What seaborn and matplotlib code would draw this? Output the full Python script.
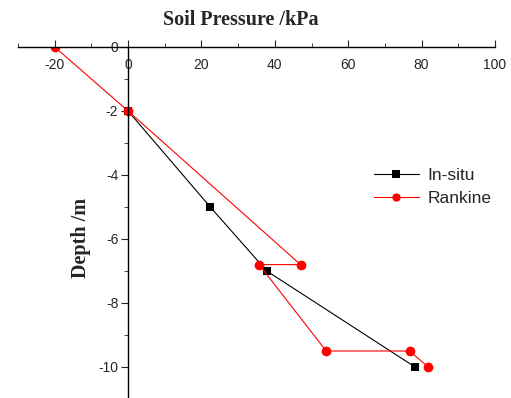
import pandas as pd
import matplotlib
matplotlib.use("Agg")
import matplotlib.pyplot as plt
from matplotlib.ticker import MultipleLocator
import seaborn as sns

# ----------------------------
# Data
# ----------------------------
insitu_pressure = [0, 22.4, 37.8, 78.2]
insitu_depth = [-2, -5, -7, -10]

rankine_pressure = [-20, 0, 47.0, 35.7, 54.0, 76.7, 81.8]
rankine_depth = [0, -2, -6.8, -6.8, -9.5, -9.5, -10]

series_names = ["In-situ", "Rankine"]

df = pd.concat([
    pd.DataFrame({"pressure": insitu_pressure, "depth": insitu_depth, "series": series_names[0]}),
    pd.DataFrame({"pressure": rankine_pressure, "depth": rankine_depth, "series": series_names[1]}),
], ignore_index=True)

sns.set_style("ticks")
plt.rcParams["font.family"] = ["Liberation Sans", "DejaVu Sans"]
plt.rcParams["axes.unicode_minus"] = False

fig = plt.figure(figsize=(5.11, 3.98), dpi=100)
ax = fig.add_axes([18 / 511, 0.0, 477 / 511, 351 / 398])

sns.lineplot(
    data=df, x="pressure", y="depth", hue="series", style="series",
    markers={"In-situ": "s", "Rankine": "o"}, dashes=False,
    palette={"In-situ": "black", "Rankine": "red"},
    sort=False, estimator=None, units="series",
    linewidth=0.8, markeredgewidth=0, ax=ax,
)
for line, ms in zip(ax.lines, [6, 7]):
    line.set_markersize(ms)

ax.set_xlim(-30, 100)
ax.set_ylim(-351 / 32, 0)

# axes cross at the origin
for side in ["top", "right"]:
    ax.spines[side].set_visible(False)
ax.spines["bottom"].set_position(("data", 0))
ax.spines["left"].set_position(("data", 0))
for side in ["bottom", "left"]:
    ax.spines[side].set_linewidth(1.0)
    ax.spines[side].set_color("black")

ax.xaxis.set_major_locator(MultipleLocator(20))
ax.xaxis.set_minor_locator(MultipleLocator(10))
ax.yaxis.set_major_locator(MultipleLocator(2))
ax.yaxis.set_minor_locator(MultipleLocator(1))
ax.tick_params(axis="x", which="both", direction="in", labelsize=10, pad=8)
ax.tick_params(axis="x", which="major", length=5)
ax.tick_params(axis="x", which="minor", length=3)
ax.tick_params(axis="y", which="both", direction="out", labelsize=10, pad=2)
ax.tick_params(axis="y", which="major", length=5)
ax.tick_params(axis="y", which="minor", length=3)
for lbl in ax.get_xticklabels() + ax.get_yticklabels():
    lbl.set_clip_on(False)

ax.set_xlabel("")
ax.set_ylabel("")
fig.text(241 / 511, 1 - 20 / 398, "Soil Pressure /kPa", ha="center", va="center",
         fontsize=14.5, fontweight="bold", family="Liberation Serif")
fig.text(81 / 511, 1 - 238 / 398, "Depth /m", ha="center", va="center", rotation=90,
         fontsize=14.5, fontweight="bold", family="Liberation Serif")

handles, labels = ax.get_legend_handles_labels()
ax.legend(handles, labels, loc="upper left", bbox_to_anchor=(340 / 477, (351 - 105) / 351),
          frameon=False, fontsize=12.5, handlelength=2.6, handletextpad=0.5,
          labelspacing=0.45)

fig.savefig("out.png", dpi=100)
